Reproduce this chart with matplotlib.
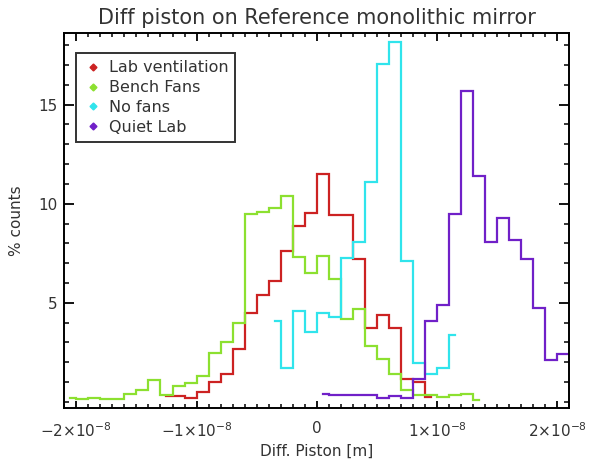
import numpy as np
import matplotlib
matplotlib.use("Agg")
import matplotlib.pyplot as plt
from matplotlib.lines import Line2D
from matplotlib.ticker import MultipleLocator, FixedLocator

plt.rcParams['font.family'] = ['DejaVu Sans']
plt.rcParams['mathtext.fontset'] = 'dejavusans'

BIN = 1e-9  # histogram bin width [m]

# ---- data (percent counts per 1 nm bin), first bin centre in nm ----
lab_start = -12.5
lab_vent = [0.29, 0.29, 0.22, 0.5, 1.01, 1.43, 2.69, 4.5, 5.39, 6.11, 7.63,
            8.87, 9.51, 11.5, 9.42, 9.42, 7.2, 3.73, 4.4, 3.73, 1.17, 1.0, 0.24]

bench_start = -20.5
bench_fans = [0.22, 0.12, 0.22, 0.12, 0.12, 0.42, 0.62, 1.09, 0.37, 0.81, 0.93,
              1.30, 2.49, 3.01, 3.99, 9.48, 9.60, 9.80, 10.40, 7.32, 6.50, 7.38,
              6.2, 4.2, 4.7, 2.82, 2.18, 1.42, 0.58, 0.33, 0.36, 0.24, 0.33,
              0.41, 0.11]

nofans_start = -3.5
no_fans = [4.07, 1.72, 4.6, 3.52, 4.5, 4.3, 7.28, 8.07, 11.07, 17.03, 18.17,
           7.11, 1.96, 1.42, 1.71, 3.39]

quiet_start = 0.5
quiet_lab = [0.42, 0.33, 0.33, 0.33, 0.33, 0.21, 0.29, 0.21, 1.17, 4.08, 4.87,
             9.48, 15.68, 11.4, 8.07, 9.3, 8.16, 7.2, 4.76, 2.1, 2.4, 2.4]

labels = ["Lab ventilation", "Bench Fans", "No fans", "Quiet Lab"]
colors = ["#cc2222", "#8ce030", "#30e4ec", "#7020c8"]

xticks = [-2e-8, -1e-8, 0.0, 1e-8, 2e-8]
xticklabels = [r"$-2{\times}10^{-8}$", r"$-1{\times}10^{-8}$", "0",
               r"$1{\times}10^{-8}$", r"$2{\times}10^{-8}$"]
yticks = [5, 10, 15]

fig = plt.figure(figsize=(5.95, 4.62), dpi=100)
ax = fig.add_axes([0.108, 0.116, 0.849, 0.812])

series = [(lab_start, lab_vent), (bench_start, bench_fans),
          (nofans_start, no_fans), (quiet_start, quiet_lab)]
for (start, vals), c in zip(series, colors):
    x = (start + np.arange(len(vals))) * BIN
    ax.step(x, vals, where='mid', color=c, lw=1.6, solid_joinstyle='miter')

ax.set_xlim(-2.1e-8, 2.1e-8)
ax.set_ylim(-0.33, 18.6)

ax.xaxis.set_major_locator(FixedLocator(xticks))
ax.set_xticklabels(xticklabels)
ax.xaxis.set_minor_locator(MultipleLocator(1e-9))
ax.yaxis.set_major_locator(FixedLocator(yticks))
ax.yaxis.set_minor_locator(MultipleLocator(1))

ax.tick_params(axis='both', which='both', direction='in', top=True, right=True,
               colors='black', labelcolor='#333333', labelsize=11)
ax.tick_params(axis='x', which='major', length=5.4, width=1.3, pad=9)
ax.tick_params(axis='x', which='minor', length=2.7, width=1.1)
ax.tick_params(axis='y', which='major', length=7.2, width=1.3, pad=5)
ax.tick_params(axis='y', which='minor', length=3.6, width=1.1)
for s in ax.spines.values():
    s.set_linewidth(1.4)
    s.set_color('black')

ax.set_title("Diff piston on Reference monolithic mirror", fontsize=15,
             color='#333333', pad=7)
ax.set_xlabel("Diff. Piston [m]", fontsize=11, color='#333333', labelpad=3)
ax.set_ylabel("% counts", fontsize=11, color='#333333', labelpad=10)

handles = [Line2D([], [], ls='none', marker='D', markersize=3.5, color=c)
           for c in colors]
leg = ax.legend(handles, labels, loc='upper left', bbox_to_anchor=(0.023, 0.947),
                fontsize=11.5, frameon=True, fancybox=False, handlelength=1.2,
                handletextpad=0.4, labelspacing=0.3, borderpad=0.45,
                borderaxespad=0)
leg.get_frame().set_edgecolor('black')
leg.get_frame().set_linewidth(1.4)
for t in leg.get_texts():
    t.set_color('#333333')

fig.savefig("out.png", dpi=100)
